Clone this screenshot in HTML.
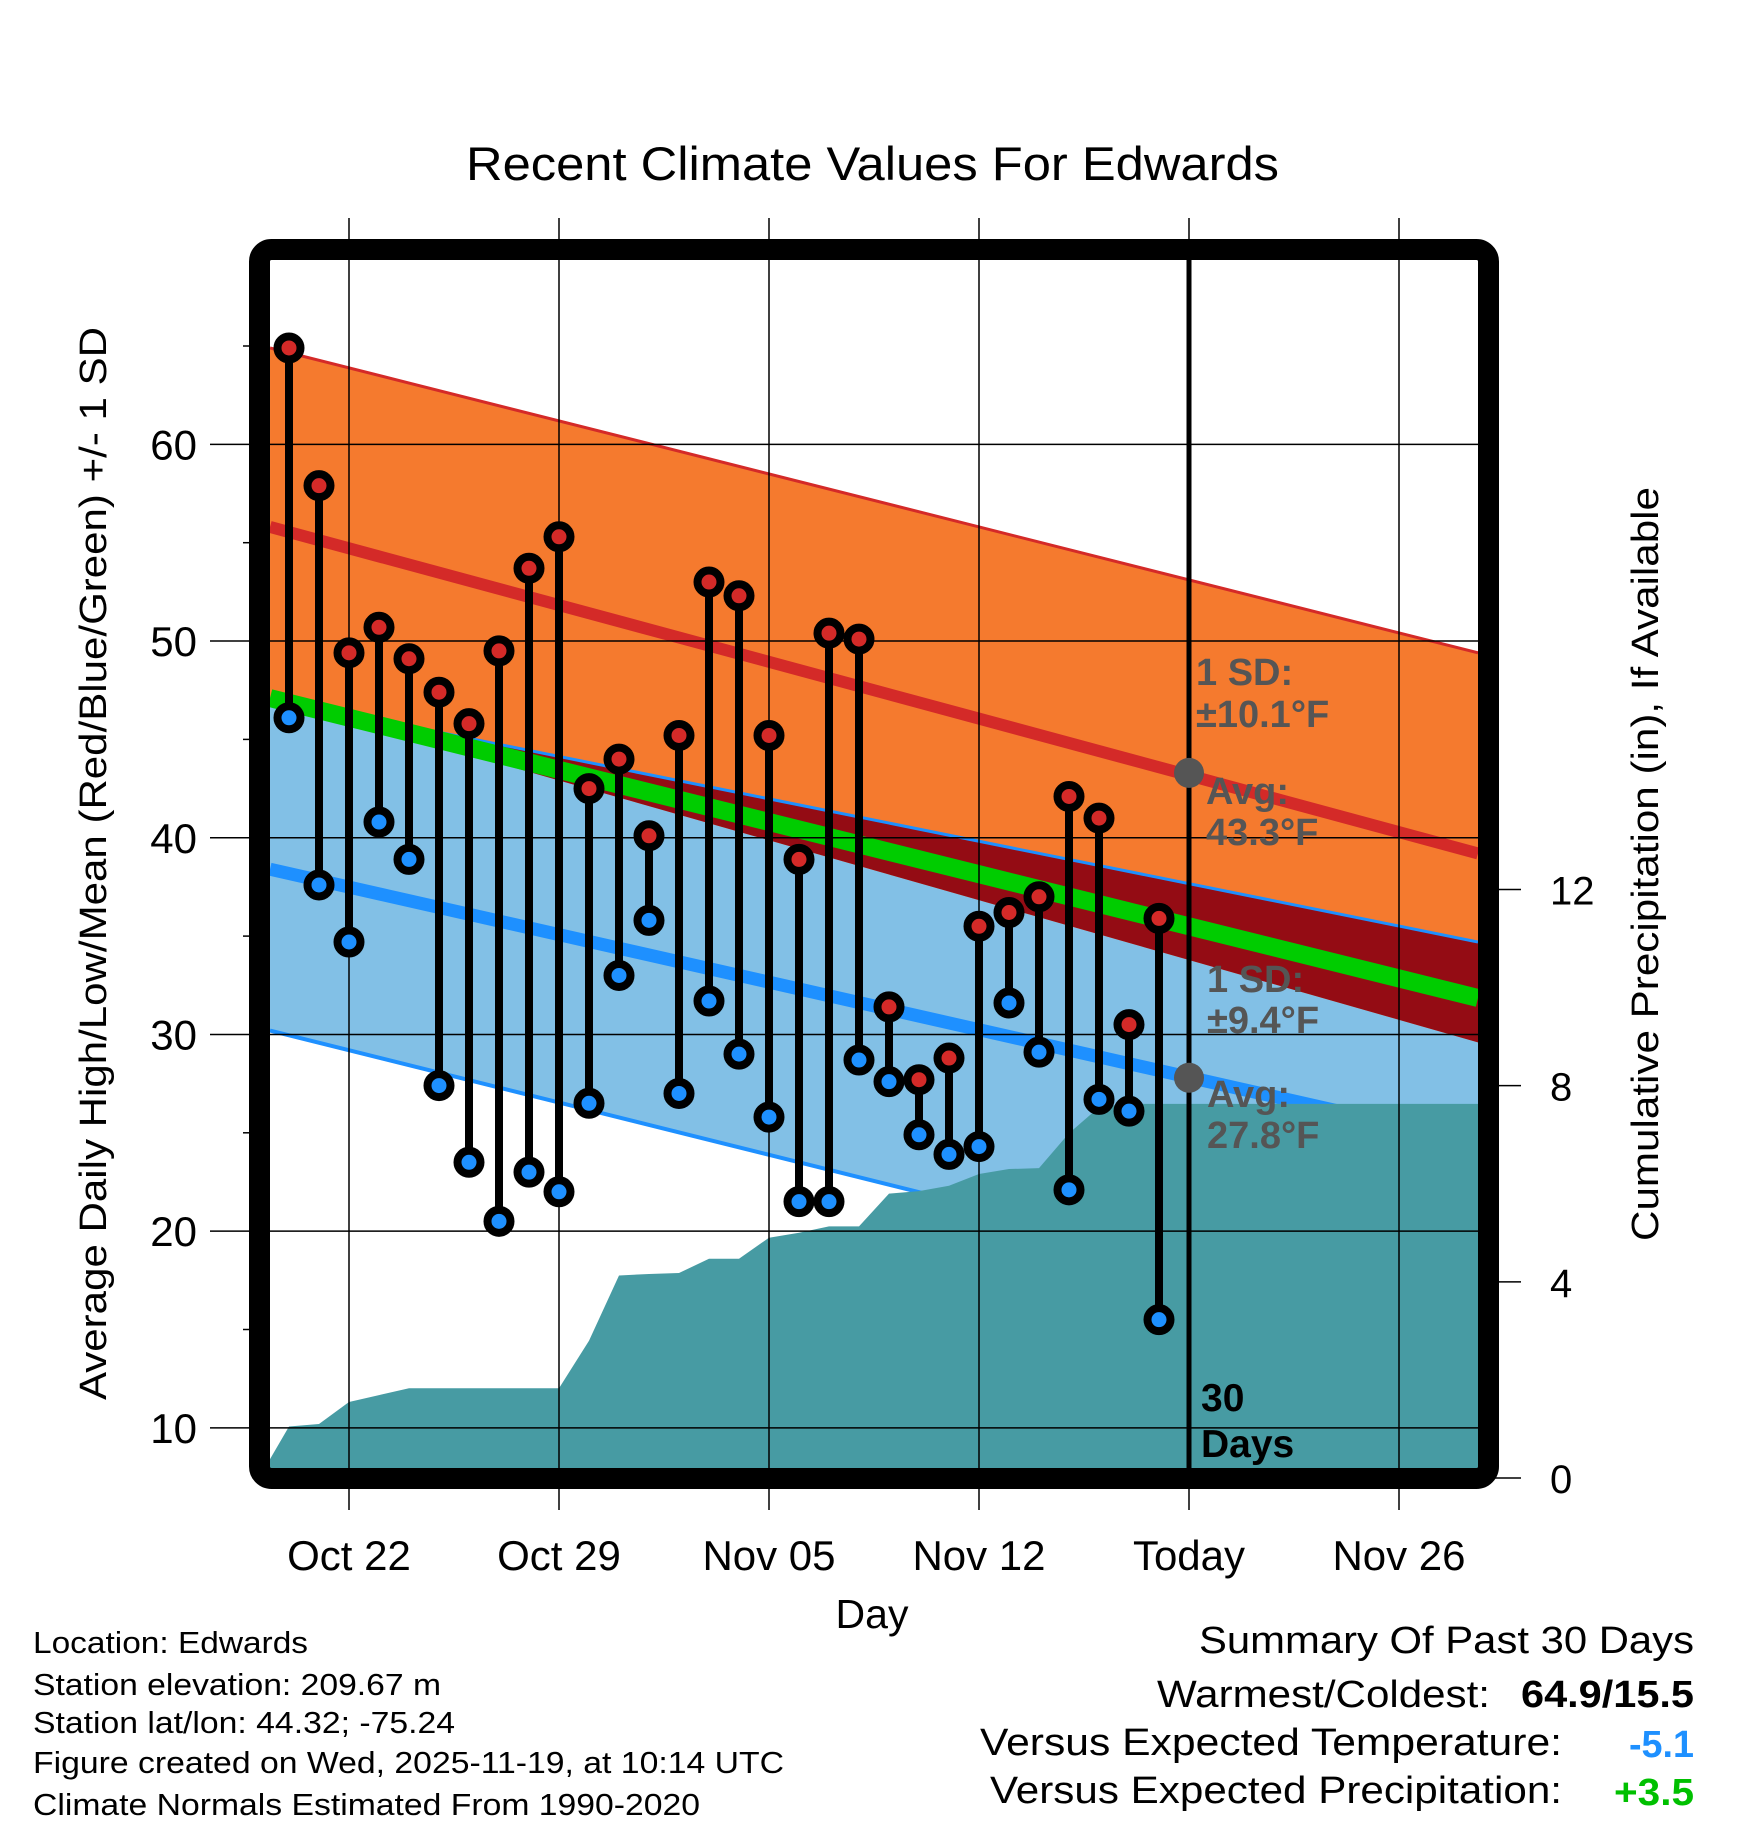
<!DOCTYPE html>
<html><head><meta charset="utf-8"><style>
body{margin:0;background:#fff;}
svg{display:block;font-family:"Liberation Sans",sans-serif;}
</style></head><body>
<svg id="chart" width="1748" height="1828" viewBox="0 0 1748 1828" xmlns="http://www.w3.org/2000/svg"></svg>
<script>
// ---- data ----
const dayLabels = ["Oct 22","Oct 29","Nov 05","Nov 12","Today","Nov 26"];
const dayTicks = [0,7,14,21,28,35]; // days since Oct 22
const obsDays = [-2,-1,0,1,2,3,4,5,6,7,8,9,10,11,12,13,14,15,16,17,18,19,20,21,22,23,24,25,26,27];
const highs = [64.9,57.9,49.4,50.7,49.1,47.4,45.8,49.5,53.7,55.3,42.5,44.0,40.1,45.2,53.0,52.3,45.2,38.9,50.4,50.1,31.4,27.7,28.8,35.5,36.2,37.0,42.1,41.0,30.5,35.9];
const lows = [46.1,37.6,34.7,40.8,38.9,27.4,23.5,20.5,23.0,22.0,26.5,33.0,35.8,27.0,31.7,29.0,25.8,21.5,21.5,28.7,27.6,24.9,23.9,24.3,31.6,29.1,22.1,26.7,26.1,15.5];
const precipDays = [-3,-2,-1,0,1,2,3,4,5,6,7,8,9,10,11,12,13,14,15,16,17,18,19,20,21,22,23,24,25,26,27,37.7];
const precip = [0,1.05,1.1,1.55,1.69,1.83,1.83,1.83,1.83,1.83,1.83,2.8,4.13,4.16,4.18,4.47,4.47,4.9,5.0,5.13,5.13,5.8,5.85,5.96,6.2,6.3,6.32,7.03,7.56,7.63,7.63,7.63];
const edgeDays = [-2.633,37.633];
const highUpper = [64.9,49.4];
const highNormal = [55.8,39.2];
const highLower = [47.1,29.6];
const meanNormal = [47.1,31.85];
const lowUpper = [47.1,34.7];
const lowNormal = [38.4,24.5];
const lowLower = [30.2,14.9];
const tempTicks = [10,20,30,40,50,60];
const tempMinor = [15,25,35,45,55,65];
const precipTicks = [0,4,8,12];
const todayDay = 28, todayHighAvg = 43.3, todayLowAvg = 27.8;

// ---- axes ----
const X = d => 349 + 30*d;
const Y = v => 346 + (65 - v)*19.67;
const P = p => 1478 - p*49.04;
const L = 270, R = 1478, T = 260, B = 1468;
const svg = document.getElementById('chart');
const NS = 'http://www.w3.org/2000/svg';
function mk(tag, attrs, parent){const e=document.createElementNS(NS,tag);for(const k in attrs)e.setAttribute(k,attrs[k]);(parent||svg).appendChild(e);return e;}
function txt(s, attrs){const e=mk('text',attrs);e.textContent=s;return e;}
const defs = mk('defs',{});
const cp = mk('clipPath',{id:'plotclip'},defs);
mk('rect',{x:L,y:T,width:R-L,height:B-T},cp);
const g = mk('g',{'clip-path':'url(#plotclip)'});
function lineAt(arr,i){return [X(edgeDays[i]),Y(arr[i])];}
function band(top,bot,fill,name){
  const pts=[lineAt(top,0),lineAt(top,1),lineAt(bot,1),lineAt(bot,0)].map(p=>p.join(',')).join(' ');
  const e=mk('polygon',{points:pts,fill:fill},g);
  
  
}
function nline(arr,color,w,name){
  const a=lineAt(arr,0),b=lineAt(arr,1);
  const e=mk('line',{x1:a[0],y1:a[1],x2:b[0],y2:b[1],stroke:color,'stroke-width':w},g);
  
  
}
band(lowUpper,lowLower,'#82c0e6','low-sd-band');
band(highUpper,highLower,'#f57a2e','high-sd-band');
band(lowUpper,highLower,'#940c14','overlap-band');
nline(highUpper,'#d42a28',3,'high-upper-line');
nline(lowUpper,'#1e90ff',3,'low-upper-line');
nline(lowLower,'#1e90ff',4,'low-lower-line');
nline(highNormal,'#d42a28',12,'normal-high-line');
nline(lowNormal,'#1e90ff',13,'normal-low-line');
nline(meanNormal,'#00cc00',18,'normal-mean-line');
// precip
let pp = precipDays.map((d,i)=>X(d)+','+P(precip[i])).join(' ');
pp += ' '+X(precipDays[precipDays.length-1])+','+(B+20)+' '+X(precipDays[0])+','+(B+20);
const pr = mk('polygon',{points:pp,fill:'#479ba3'},g);


// gridlines
tempTicks.forEach(v=>{const e=mk('line',{x1:210,y1:Y(v),x2:R,y2:Y(v),stroke:'#000','stroke-width':1.5});
  
  
  const t=txt(String(v),{x:197,y:Y(v)+15,'font-size':42,'text-anchor':'end'});
  
  
});
tempMinor.forEach(v=>{const e=mk('line',{x1:243,y1:Y(v),x2:252,y2:Y(v),stroke:'#000','stroke-width':1.5});
  
  
});
dayTicks.forEach((d,i)=>{const e=mk('line',{x1:X(d),y1:218,x2:X(d),y2:1510,stroke:'#000','stroke-width':1.5});
  
  
  const t=txt(dayLabels[i],{x:X(d),y:1570,'font-size':42,'text-anchor':'middle'});
  
  
});
precipTicks.forEach(p=>{const e=mk('line',{x1:1495,y1:P(p),x2:1521,y2:P(p),stroke:'#000','stroke-width':1.5});
  
  
  const t=txt(String(p),{x:1550,y:P(p)+15,'font-size':40});
  
  
});
// today line
const tl=mk('line',{x1:X(todayDay),y1:T,x2:X(todayDay),y2:B,stroke:'#000','stroke-width':5});


// stems & dots
obsDays.forEach((d,i)=>{
  const s=mk('line',{x1:X(d),y1:Y(highs[i]),x2:X(d),y2:Y(lows[i]),stroke:'#000','stroke-width':8});
  
  
  [[highs[i],'#d42a28','high-dot'],[lows[i],'#1e90ff','low-dot']].forEach(o=>{
    const c=mk('circle',{cx:X(d),cy:Y(o[0]),r:11.5,fill:o[1],stroke:'#000','stroke-width':8});
    
    
  });
});
[todayHighAvg,todayLowAvg].forEach(v=>{const c=mk('circle',{cx:X(todayDay),cy:Y(v),r:15,fill:'#555'});
  
  
});
// annotations
const ann=[["1 SD:",1196,685],["±10.1°F",1196,727],["Avg:",1206,804],["43.3°F",1206,845],["1 SD:",1207,992],["±9.4°F",1207,1033],["Avg:",1207,1107],["27.8°F",1207,1148]];
ann.forEach(a=>{const t=txt(a[0],{x:a[1],y:a[2],'font-size':38,'font-weight':'bold',fill:'#555'});
  
  
});
[["30",1411],["Days",1457]].forEach(a=>{const t=txt(a[0],{x:1201,y:a[1],'font-size':39,'font-weight':'bold',fill:'#000'});
  
  
});
// border
const bd=mk('rect',{x:259.5,y:249.5,width:1229,height:1229,rx:12,fill:'none',stroke:'#000','stroke-width':21});


</script>
<svg style="position:absolute;left:0;top:0" width="1748" height="1828" font-family="Liberation Sans, sans-serif">
<text x="466" y="180" font-size="47" textLength="813" lengthAdjust="spacingAndGlyphs">Recent Climate Values For Edwards</text>
<text x="872" y="1628" font-size="41" text-anchor="middle">Day</text>
<text transform="translate(106,1400) rotate(-90)" font-size="38" textLength="1073" lengthAdjust="spacingAndGlyphs">Average Daily High/Low/Mean (Red/Blue/Green) +/- 1 SD</text>
<text transform="translate(1658,1241) rotate(-90)" font-size="38" textLength="754" lengthAdjust="spacingAndGlyphs">Cumulative Precipitation (in), If Available</text>
<g font-size="31" lengthAdjust="spacingAndGlyphs">
<text x="33" y="1653" textLength="275" lengthAdjust="spacingAndGlyphs">Location: Edwards</text>
<text x="33" y="1695" textLength="408" lengthAdjust="spacingAndGlyphs">Station elevation: 209.67 m</text>
<text x="33" y="1733" textLength="422" lengthAdjust="spacingAndGlyphs">Station lat/lon: 44.32; -75.24</text>
<text x="33" y="1773" textLength="751" lengthAdjust="spacingAndGlyphs">Figure created on Wed, 2025-11-19, at 10:14 UTC</text>
<text x="33" y="1815" textLength="667" lengthAdjust="spacingAndGlyphs">Climate Normals Estimated From 1990-2020</text>
</g>
<g font-size="38">
<text x="1199" y="1653" textLength="495" lengthAdjust="spacingAndGlyphs">Summary Of Past 30 Days</text>
<text x="1157" y="1707" textLength="333" lengthAdjust="spacingAndGlyphs">Warmest/Coldest:</text>
<text x="1521" y="1707" font-weight="bold" textLength="173" lengthAdjust="spacingAndGlyphs">64.9/15.5</text>
<text x="980" y="1755" textLength="582" lengthAdjust="spacingAndGlyphs">Versus Expected Temperature:</text>
<text x="1629" y="1757" font-weight="bold" fill="#1e90ff" textLength="65" lengthAdjust="spacingAndGlyphs">-5.1</text>
<text x="990" y="1803" textLength="572" lengthAdjust="spacingAndGlyphs">Versus Expected Precipitation:</text>
<text x="1614" y="1805" font-weight="bold" fill="#00c000" textLength="80" lengthAdjust="spacingAndGlyphs">+3.5</text>
</g>
</svg>
</body></html>
